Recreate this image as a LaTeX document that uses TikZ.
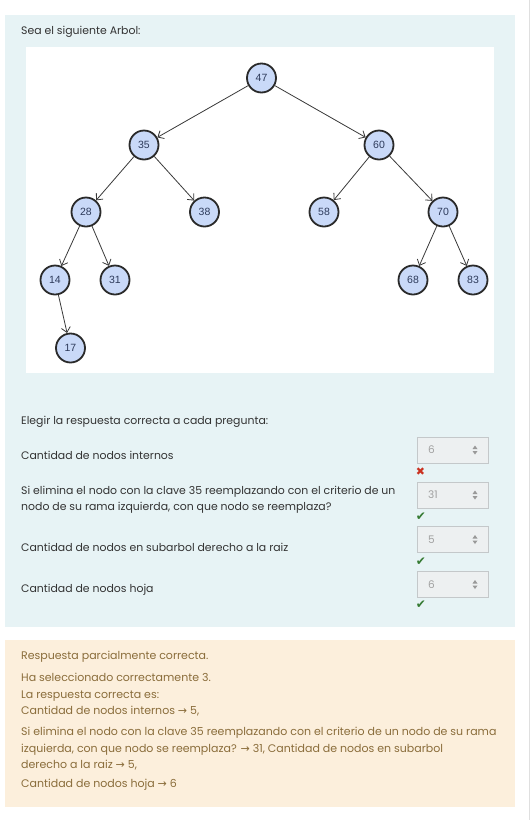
\documentclass[tikz,border=0pt]{standalone}
\usepackage{fontspec}
\setmainfont{Poppins}
\newfontfamily\arialf{Liberation Sans}
\newfontfamily\symf{DejaVu Sans}
\usetikzlibrary{arrows.meta}
\definecolor{panelblue}{HTML}{E7F3F5}
\definecolor{panelorange}{HTML}{FCEFDC}
\definecolor{txt}{HTML}{333333}
\definecolor{fbtext}{HTML}{8A6D3B}
\definecolor{nodefill}{HTML}{C9D9F8}
\definecolor{nodeline}{HTML}{2A2A2A}
\definecolor{nodetext}{HTML}{2D3A5A}
\definecolor{edgecol}{HTML}{3A3A3A}
\definecolor{selborder}{HTML}{C4C8CA}
\definecolor{selfill}{HTML}{EDF0F1}
\definecolor{seltext}{HTML}{A0A0A0}
\definecolor{wrongred}{HTML}{CA3120}
\definecolor{okgreen}{HTML}{357A32}
\tikzset{
  tnode/.style={circle, draw=nodeline, line width=1.8pt, fill=nodefill, minimum size=29pt, inner sep=0pt,
    font=\arialf\fontsize{10.5}{11}\selectfont, text=nodetext},
  edge/.style={draw=edgecol, line width=0.8pt, -{Straight Barb[length=5pt,width=9pt]}},
  qtext/.style={anchor=west, inner sep=0pt, text=txt, font=\fontsize{10.9}{16}\selectfont, align=left},
  fbline/.style={anchor=west, inner sep=0pt, text=fbtext, font=\fontsize{11}{16.5}\selectfont, align=left},
  selbox/.style={draw=selborder, fill=selfill, line width=0.8pt, minimum width=71pt, minimum height=26pt, inner sep=0pt},
  selval/.style={anchor=west, inner sep=0pt, text=seltext, font=\fontsize{10.5}{12}\selectfont},
  spin/.style={fill=gray!80, draw=none},
  mark wrong/.style={text=wrongred, font=\symf\fontsize{11}{11}\selectfont, inner sep=0pt},
  mark right/.style={text=okgreen, font=\symf\fontsize{12}{12}\selectfont, inner sep=0pt}
}
\newcommand\myspinner[2]{%
  \fill[spin] (#1-2.5,#2-1) -- (#1+2.5,#2-1) -- (#1,#2-4.5) -- cycle;
  \fill[spin] (#1-2.5,#2+1) -- (#1+2.5,#2+1) -- (#1,#2+4.5) -- cycle;
}
\begin{document}
\begin{tikzpicture}[x=1pt,y=-1pt]
\useasboundingbox (0,0) rectangle (531,820);
\fill[white] (0,0) rectangle (531,820);
% panels
\fill[panelblue] (5,15) rectangle (515,627);
\fill[white] (26,46.5) rectangle (494,373);
\fill[panelorange] (5,640) rectangle (515,807);
\draw[gray!25, line width=0.8pt] (529.5,0) -- (529.5,820);

\node[qtext] (title) at (21,32) {Sea el siguiente Arbol:};

% tree
\node[tnode] (n47) at (261.5,78) {47};
\node[tnode] (n35) at (144,145) {35};
\node[tnode] (n60) at (379,145) {60};
\node[tnode] (n28) at (86,212) {28};
\node[tnode] (n38) at (204.5,212) {38};
\node[tnode] (n58) at (324,212) {58};
\node[tnode] (n70) at (443,212) {70};
\node[tnode] (n14) at (55,280) {14};
\node[tnode] (n31) at (115,280) {31};
\node[tnode] (n68) at (413,280) {68};
\node[tnode] (n83) at (473,280) {83};
\node[tnode] (n17) at (70.5,348) {17};
\draw[edge] (n47) -- (n35);
\draw[edge] (n47) -- (n60);
\draw[edge] (n35) -- (n28);
\draw[edge] (n35) -- (n38);
\draw[edge] (n60) -- (n58);
\draw[edge] (n60) -- (n70);
\draw[edge] (n28) -- (n14);
\draw[edge] (n28) -- (n31);
\draw[edge] (n70) -- (n68);
\draw[edge] (n70) -- (n83);
\draw[edge] (n14) -- (n17);

% questions
\node[qtext] (intro) at (21,422) {Elegir la respuesta correcta a cada pregunta:};
\node[qtext] (q1) at (21,455) {Cantidad de nodos internos};
\node[qtext] (q2) at (21,500) {Si elimina el nodo con la clave 35 reemplazando con el criterio de un\\nodo de su rama izquierda, con que nodo se reemplaza?};
\node[qtext] (q3) at (21,547) {Cantidad de nodos en subarbol derecho a la raiz};
\node[qtext] (q4) at (21,590) {Cantidad de nodos hoja};

% select boxes
\node[selbox] (s1) at (452.5,450) {};
\node[selval] (v1) at (428,450) {6};
\myspinner{475}{450}
\node[mark wrong] (m1) at (420.5,472) {✖};

\node[selbox] (s2) at (452.5,495) {};
\node[selval] (v2) at (428,495) {31};
\myspinner{475}{495}
\node[mark right] (m2) at (421,517) {✔};

\node[selbox] (s3) at (452.5,539.5) {};
\node[selval] (v3) at (428,539.5) {5};
\myspinner{475}{539.5}
\node[mark right] (m3) at (421,562) {✔};

\node[selbox] (s4) at (452.5,584.5) {};
\node[selval] (v4) at (428,584.5) {6};
\myspinner{475}{584.5}
\node[mark right] (m4) at (421,605) {✔};

% feedback
\node[fbline] (f1) at (21,657) {Respuesta parcialmente correcta.};
\node[fbline] (f2) at (21,695) {Ha seleccionado correctamente 3.\\La respuesta correcta es:\\Cantidad de nodos internos {\symf →} 5,};
\node[fbline] (f3) at (21,749) {Si elimina el nodo con la clave 35 reemplazando con el criterio de un nodo de su rama\\izquierda, con que nodo se reemplaza? {\symf →} 31, Cantidad de nodos en subarbol\\derecho a la raiz {\symf →} 5,};
\node[fbline] (f4) at (21,785) {Cantidad de nodos hoja {\symf →} 6};
\end{tikzpicture}
\end{document}
